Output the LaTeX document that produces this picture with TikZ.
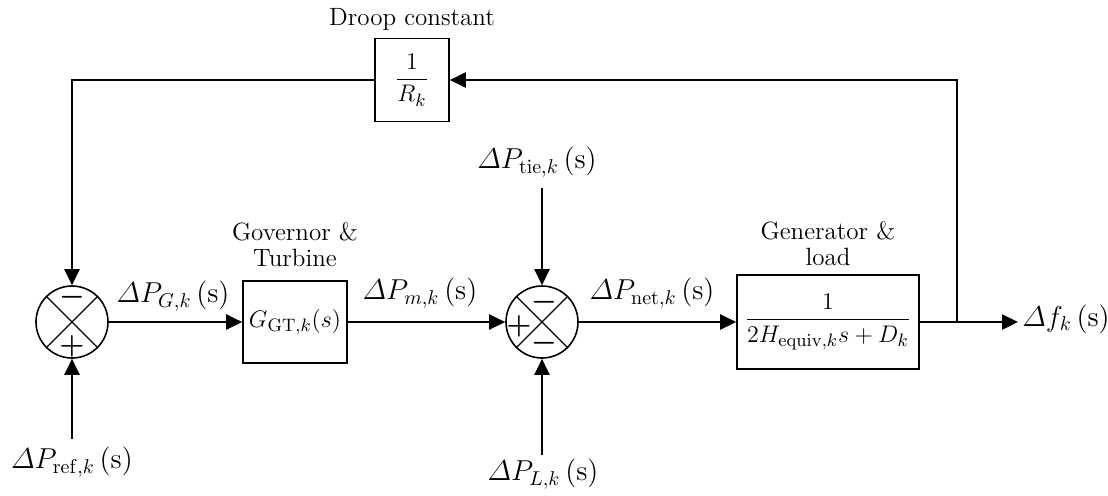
\documentclass[tikz,border=0pt]{standalone}
\usepackage{amsmath}
\usetikzlibrary{arrows.meta}
\begin{document}
\begin{tikzpicture}[
        x=0.5pt, y=-0.5pt,
        font=\fontsize{14}{16}\selectfont,
        gain box/.style={draw, line width=0.8pt, inner sep=0pt, font=\fontsize{13}{15}\selectfont},
        sum circle/.style={draw, circle, line width=0.8pt, minimum size=36pt, inner sep=0pt},
        sign/.style={font=\Large\boldmath, inner sep=0pt},
        caption/.style={font=\fontsize{12.5}{14}\selectfont, align=center},
        signal/.style={line width=1.2pt, -{Triangle[length=8pt, width=7.5pt]}},
        wire/.style={line width=1.2pt},
    ]

    % Frame of the picture
    \useasboundingbox (0,0) rectangle (1108,495);

    % Summing junctions
    \node[sum circle] (sumG) at (72,322) {};
    \node[sum circle] (sumP) at (542,322) {};
    \foreach \s in {sumG, sumP} {
        \draw[line width=0.6pt] (\s.45) -- (\s.225) (\s.135) -- (\s.315);
    }
    \node[sign] (sgnGa) at (72,297) {$-$};
    \node[sign] (sgnGb) at (72,346) {$+$};
    \node[sign] (sgnPa) at (544,302) {$-$};
    \node[sign] (sgnPb) at (519,326) {$+$};
    \node[sign] (sgnPc) at (544,343) {$-$};

    % Transfer blocks
    \node[gain box, minimum width=52pt, minimum height=41pt] (gt) at (295,322) {$G_{\mathrm{GT},k}(s)$};
    \node[gain box, minimum width=91pt, minimum height=47pt] (gen) at (828,322) {$\dfrac{1}{2H_{\mathrm{equiv},k}s+D_k}$};
    \node[gain box, minimum width=37pt, minimum height=41.5pt] (droop) at (412,80) {$\dfrac{1}{R_k}$};

    % Block captions
    \node[caption] (gtcap) at (295,245) {Governor \&\\[-1pt]Turbine};
    \node[caption] (gencap) at (828,244) {Generator \&\\[-1pt]load};
    \node[caption] (droopcap) at (412,19) {Droop constant};

    % Signal labels
    \node (lblG) at (173,296) {$\varDelta P_{G,k}\,(\mathrm{s})$};
    \node (lblM) at (420,293) {$\varDelta P_{m,k}\,(\mathrm{s})$};
    \node (lblNet) at (652,293) {$\varDelta P_{\mathrm{net},k}\,(\mathrm{s})$};
    \node (lblTie) at (537,162) {$\varDelta P_{\mathrm{tie},k}\,(\mathrm{s})$};
    \node (lblL) at (543,474) {$\varDelta P_{L,k}\,(\mathrm{s})$};
    \node (lblRef) at (72,462) {$\varDelta P_{\mathrm{ref},k}\,(\mathrm{s})$};
    \node (lblF) at (1066,319) {$\varDelta f_k\,(\mathrm{s})$};

    % Free ends of the connectors
    \coordinate (tieIn) at (542,188);
    \coordinate (loadIn) at (542,455);
    \coordinate (refIn) at (72,439);
    \coordinate (tap) at (957,322);
    \coordinate (fOut) at (1018,322);

    % Forward path
    \draw[signal] (sumG.east) -- (gt.west);
    \draw[signal] (gt.east) -- (sumP.west);
    \draw[signal] (sumP.east) -- (gen.west);
    \draw[signal] (gen.east) -- (fOut);

    % Disturbance and reference inputs
    \draw[signal] (tieIn) -- (sumP.north);
    \draw[signal] (loadIn) -- (sumP.south);
    \draw[signal] (refIn) -- (sumG.south);

    % Droop feedback loop
    \draw[signal] (tap) |- (droop.east);
    \draw[signal] (droop.west) -| (sumG.north);

\end{tikzpicture}
\end{document}
